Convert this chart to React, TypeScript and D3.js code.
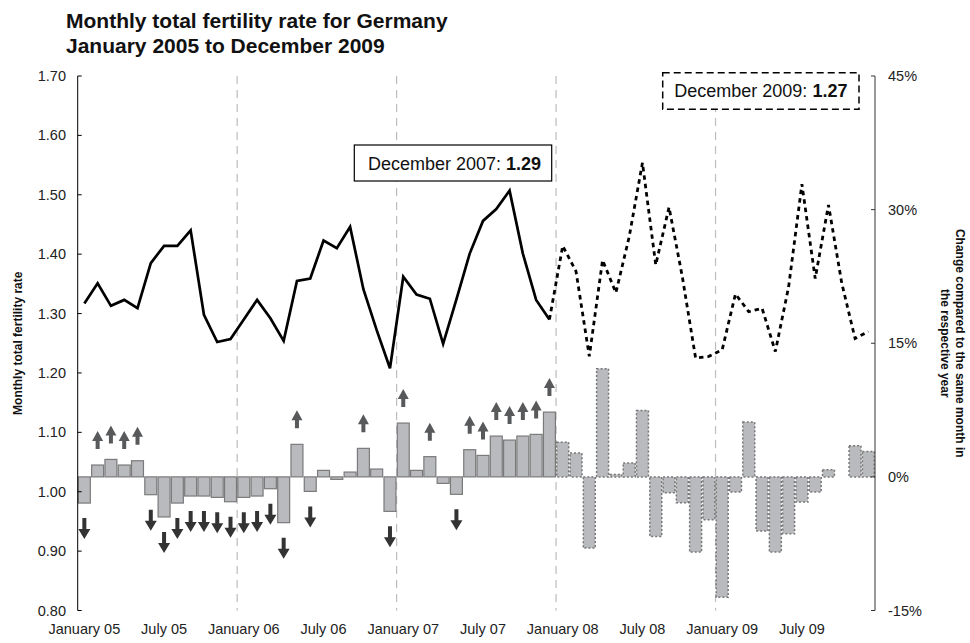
import React from "react";
import * as d3 from "d3";

// ---------- DATA ----------
const yearKeys = ["05", "06", "07", "08", "09"];
const monthNames = ["Jan", "Feb", "Mar", "Apr", "May", "Jun", "Jul", "Aug", "Sep", "Oct", "Nov", "Dec"];
const months: string[] = yearKeys.flatMap((y) => monthNames.map((m) => `${m} ${y}`));

// Monthly total fertility rate (left axis)
const tfr2005to2007 = [
  1.317, 1.351, 1.313, 1.323, 1.309, 1.385, 1.414, 1.414, 1.44, 1.298, 1.252, 1.257,
  1.29, 1.323, 1.292, 1.254, 1.355, 1.359, 1.423, 1.41, 1.446, 1.341, 1.272, 1.208,
  1.362, 1.332, 1.325, 1.249, 1.324, 1.401, 1.456, 1.476, 1.507, 1.401, 1.323, 1.29,
];
const tfr2008to2009 = [
  1.414, 1.371, 1.228, 1.39, 1.335, 1.429, 1.554, 1.382, 1.479, 1.362, 1.225, 1.228,
  1.239, 1.333, 1.303, 1.309, 1.236, 1.345, 1.518, 1.359, 1.483, 1.351, 1.258, 1.27,
];

// Change compared to the same month of the previous year, % (right axis)
const change2005to2007 = [
  -2.94, 1.33, 1.96, 1.33, 1.81, -2.0, -4.5, -2.94, -2.15, -2.15, -2.3, -2.79,
  -2.3, -2.15, -1.33, -5.14, 3.65, -1.63, 0.73, -0.28, 0.54, 3.2, 0.88, -3.87,
  6.04, 0.73, 2.27, -0.73, -1.96, 3.05, 2.41, 4.58, 4.13, 4.58, 4.77, 7.27,
];
const change2008to2009 = [
  3.9, 2.67, -7.99, 12.14, 0.28, 1.55, 7.46, -6.68, -1.78, -2.9, -8.44, -4.8,
  -13.5, -1.7, 6.15, -6.08, -8.44, -6.38, -2.83, -1.7, 0.81, 0, 3.5, 2.86,
];

const leftTicks = [0.8, 0.9, 1.0, 1.1, 1.2, 1.3, 1.4, 1.5, 1.6, 1.7];
const rightTicks = [-15, 0, 15, 30, 45];
const xTickMonths = ["Jan 05", "Jul 05", "Jan 06", "Jul 06", "Jan 07", "Jul 07", "Jan 08", "Jul 08", "Jan 09", "Jul 09"];
const xTickLabels = ["January 05", "July 05", "January 06", "July 06", "January 07", "July 07", "January 08", "July 08", "January 09", "July 09"];
const yearStarts = ["Jan 06", "Jan 07", "Jan 08", "Jan 09"];

const titleLines = ["Monthly total fertility rate for Germany", "January 2005 to December 2009"];
const leftTitle = "Monthly total fertility rate";
const rightTitleLines = ["Change compared to the same month in", "the respective year"];
const note1 = { label: "December 2007: ", value: "1.29" };
const note2 = { label: "December 2009: ", value: "1.27" };

// ---------- LAYOUT ----------
const W = 970;
const H = 643;
const left = 77.7;
const right = 875;
const top = 76;
const bottom = 610.5;
const FONT = "Arial, 'Liberation Sans', Helvetica, sans-serif";
const arrowThreshold = 1;

export default function App() {
  const x = d3.scaleBand<string>().domain(months).range([left, right]).paddingInner(0.1).paddingOuter(0.05);
  const yL = d3.scaleLinear().domain([0.8, 1.7]).range([bottom, top]);
  const yR = d3.scaleLinear().domain([-15, 45]).range([bottom, top]);
  const cx = (m: string) => (x(m) as number) + x.bandwidth() / 2;
  const boundary = (m: string) => (x(m) as number) - (x.step() * x.paddingInner()) / 2;

  const solidMonths = months.slice(0, 36);
  const dottedMonths = months.slice(35); // continues from Dec 07
  const dottedValues = [tfr2005to2007[tfr2005to2007.length - 1], ...tfr2008to2009];

  const line = d3
    .line<[string, number]>()
    .x((d) => cx(d[0]))
    .y((d) => yL(d[1]));

  const solidPath = line(solidMonths.map((m, i) => [m, tfr2005to2007[i]]));
  const dottedPath = line(dottedMonths.map((m, i) => [m, dottedValues[i]]));

  const zero = yR(0);
  const bars1 = change2005to2007.map((v, i) => ({ m: months[i], v }));
  const bars2 = change2008to2009.map((v, i) => ({ m: months[36 + i], v }));

  const upArrow = "M0,0 L5.5,10 L2,10 L2,18 L-2,18 L-2,10 L-5.5,10 Z";
  const downArrow = "M0,0 L6,-10 L2,-10 L2,-21 L-2,-21 L-2,-10 L-6,-10 Z";

  return (
    <svg
      width={W}
      height={H}
      viewBox={`0 0 ${W} ${H}`}
      style={{ position: "absolute", left: 0, top: 0, background: "#fff" }}
      fontFamily={FONT}
    >
      {/* Title */}
      <text x={66} y={28} fontSize={21} fontWeight="bold" fill="#111">
        {titleLines[0]}
      </text>
      <text x={66} y={53} fontSize={21} fontWeight="bold" fill="#111">
        {titleLines[1]}
      </text>

      {/* Year dividers */}
      {yearStarts.map((m) => (
        <line
          key={m}
          x1={boundary(m)}
          x2={boundary(m)}
          y1={top}
          y2={bottom}
          stroke="#bdbdbd"
          strokeWidth={1.2}
          strokeDasharray="8,6"
        />
      ))}

      {/* Bars 2005-2007 (solid outline) */}
      {bars1.map((b) =>
        b.v === 0 ? null : (
          <rect
            key={b.m}
            x={x(b.m)}
            y={Math.min(yR(b.v), zero)}
            width={x.bandwidth()}
            height={Math.abs(yR(b.v) - zero)}
            fill="#b9babd"
            stroke="#7a7a7a"
            strokeWidth={1.2}
          />
        )
      )}
      {/* Bars 2008-2009 (dotted outline) */}
      {bars2.map((b) =>
        b.v === 0 ? null : (
          <rect
            key={b.m}
            x={x(b.m)}
            y={Math.min(yR(b.v), zero)}
            width={x.bandwidth()}
            height={Math.abs(yR(b.v) - zero)}
            fill="#b9babd"
            stroke="#777"
            strokeWidth={1.5}
            strokeDasharray="2,2"
          />
        )
      )}

      {/* Arrows */}
      {bars1.map((b) => {
        if (Math.abs(b.v) < arrowThreshold) return null;
        if (b.v > 0) {
          const yTip = yR(b.v) - 16 - 18;
          return <path key={"a" + b.m} d={upArrow} transform={`translate(${cx(b.m)},${yTip})`} fill="#58595b" />;
        }
        const yTip = yR(b.v) + 15 + 21;
        return <path key={"a" + b.m} d={downArrow} transform={`translate(${cx(b.m)},${yTip})`} fill="#333" />;
      })}

      {/* Lines */}
      <path d={solidPath || ""} fill="none" stroke="#000" strokeWidth={2.7} strokeLinejoin="miter" />
      <path d={dottedPath || ""} fill="none" stroke="#000" strokeWidth={2.8} strokeDasharray="4.5,4" />

      {/* Left axis */}
      <line x1={left} x2={left} y1={top} y2={bottom} stroke="#000" strokeWidth={1} />
      {leftTicks.map((t) => (
        <g key={t}>
          <line x1={left} x2={left + 4} y1={yL(t)} y2={yL(t)} stroke="#000" />
          <text x={66} y={yL(t) + 5} fontSize={14.5} textAnchor="end" fill="#222">
            {t.toFixed(2)}
          </text>
        </g>
      ))}

      {/* Right axis */}
      <line x1={right} x2={right} y1={top} y2={bottom} stroke="#333" strokeWidth={1} />
      {rightTicks.map((t) => (
        <g key={t}>
          <line x1={right - 4} x2={right} y1={yR(t)} y2={yR(t)} stroke="#333" />
          <text x={888} y={yR(t) + 5} fontSize={14.5} textAnchor="start" fill="#222">
            {`${t}%`}
          </text>
        </g>
      ))}

      {/* X labels */}
      {xTickMonths.map((m, i) => (
        <text key={m} x={cx(m)} y={634} fontSize={14.5} textAnchor="middle" fill="#222">
          {xTickLabels[i]}
        </text>
      ))}

      {/* Axis titles */}
      <text
        transform={`translate(22,${(top + bottom) / 2}) rotate(-90)`}
        fontSize={12}
        fontWeight="bold"
        textAnchor="middle"
        fill="#111"
      >
        {leftTitle}
      </text>
      <text
        transform={`translate(955.5,${(top + bottom) / 2}) rotate(90)`}
        fontSize={12}
        fontWeight="bold"
        textAnchor="middle"
        fill="#111"
      >
        <tspan x={0} dy={0}>{rightTitleLines[0]}</tspan>
        <tspan x={0} dy={14.5}>{rightTitleLines[1]}</tspan>
      </text>

      {/* Annotations */}
      <rect x={354.3} y={145} width={197.4} height={36} fill="#fff" stroke="#000" strokeWidth={1.2} />
      <text x={368} y={169.5} fontSize={18} fill="#111">
        {note1.label}
        <tspan fontWeight="bold">{note1.value}</tspan>
      </text>
      <rect
        x={662.7}
        y={72.7}
        width={196.3}
        height={36.6}
        fill="#fff"
        stroke="#000"
        strokeWidth={1.5}
        strokeDasharray="7,4"
      />
      <text x={674.3} y={96.5} fontSize={18} fill="#111">
        {note2.label}
        <tspan fontWeight="bold">{note2.value}</tspan>
      </text>
    </svg>
  );
}
